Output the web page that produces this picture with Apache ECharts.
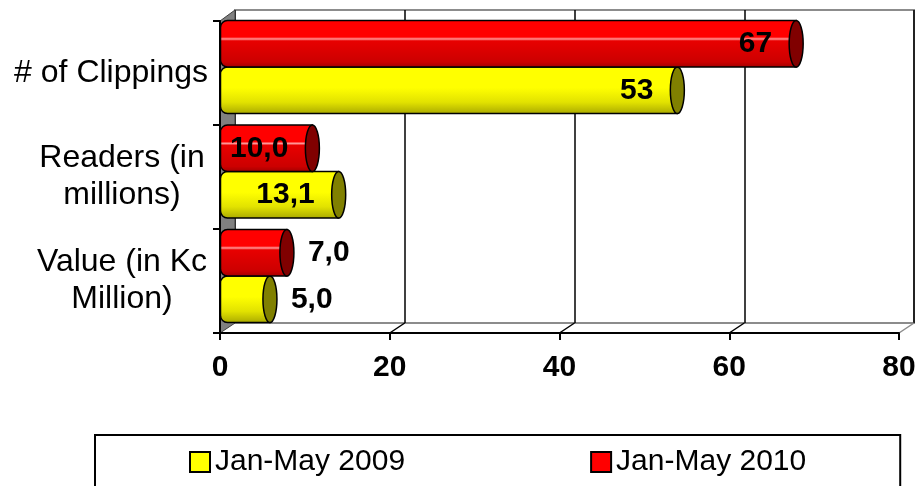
<!DOCTYPE html>
<html>
<head>
<meta charset="utf-8">
<script src="https://cdn.jsdelivr.net/npm/echarts@6/dist/echarts.min.js"></script>
<style>
  html, body { margin: 0; padding: 0; background: #fff; }
  #chart { width: 923px; height: 486px; }
</style>
</head>
<body>
<div id="chart"></div>
<script>
// data
var categories = ['# of Clippings', 'Readers (in\nmillions)', 'Value (in Kc\nMillion)'];
var decimals = [0, 1, 1];
var values2009 = [53, 13.1, 5.0];
var values2010 = [67, 10.0, 7.0];
var seriesNames = ['Jan-May 2009', 'Jan-May 2010'];
var xTicks = [0, 20, 40, 60, 80];

var FONT = '"Liberation Sans", Arial, sans-serif';

// layout of the 3D box: front plane, middle (bars), back wall
var H = 486;
var front = { left: 220, right: 24, top: 21, bottom: 153 };
var middle = { left: 227.5, right: 16.5, top: 14.75, bottom: 157.75 };
var back = { left: 235, right: 9, top: 10, bottom: 163 };

var chart = echarts.init(document.getElementById('chart'));

function fmt(v, i) {
  return v.toFixed(decimals[i]).replace('.', ',');
}

function gradient(stops) {
  return new echarts.graphic.LinearGradient(0, 0, 0, 1, stops);
}

var redBody = gradient([
  { offset: 0, color: '#ff0000' },
  { offset: 0.36, color: '#ff0000' },
  { offset: 0.4, color: '#ff9a9a' },
  { offset: 0.44, color: '#e80000' },
  { offset: 0.88, color: '#cc0000' },
  { offset: 1, color: '#a00000' }
]);
var yellowBody = gradient([
  { offset: 0, color: '#ffff00' },
  { offset: 0.45, color: '#ffff00' },
  { offset: 0.75, color: '#e2e200' },
  { offset: 1, color: '#a8a800' }
]);

// slot 0 = upper bar in the band, slot 1 = lower bar
function cylinder(body, cap, slot) {
  return function (params, api) {
    var v = api.value(0);
    var i = api.value(1);
    var s = api.coord([0, i]);
    var e = api.coord([v, i]);
    var band = api.size([0, 1])[1];
    var h = band * 0.445;
    var y0 = s[1] - h + slot * h;
    var rx = 7;
    var inside = e[0] - s[0] > 75;
    return {
      type: 'group',
      children: [
        {
          type: 'rect',
          shape: { x: s[0] - rx, y: y0, width: e[0] - s[0] + rx, height: h, r: [rx, 0, 0, rx] },
          style: { fill: body, stroke: '#000', lineWidth: 1.5 }
        },
        {
          type: 'ellipse',
          shape: { cx: e[0], cy: y0 + h / 2, rx: rx, ry: h / 2 },
          style: { fill: cap, stroke: '#000', lineWidth: 1.5 }
        },
        {
          type: 'text',
          x: inside ? e[0] - 24 : e[0] + 21,
          y: y0 + h / 2,
          style: {
            text: fmt(v, i),
            align: inside ? 'right' : 'left',
            verticalAlign: 'middle',
            fontSize: 30,
            fontWeight: 'bold',
            fontFamily: FONT,
            fill: '#000'
          }
        }
      ]
    };
  };
}

function pairs(vals) {
  return vals.map(function (v, i) { return [v, i]; });
}

var option = {
  animation: false,
  backgroundColor: '#fff',
  grid: [
    { left: front.left, right: front.right, top: front.top, bottom: front.bottom },
    { left: back.left, right: back.right, top: back.top, bottom: back.bottom,
      show: true, borderColor: '#8c8c8c', borderWidth: 2, backgroundColor: 'transparent' },
    { left: middle.left, right: middle.right, top: middle.top, bottom: middle.bottom }
  ],
  xAxis: [
    {
      gridIndex: 0, type: 'value', min: 0, max: 80, interval: 20, z: 3,
      axisLine: { show: true, lineStyle: { color: '#000', width: 2 } },
      axisTick: { show: true, length: 7, lineStyle: { color: '#000', width: 2 } },
      axisLabel: { fontSize: 30, fontWeight: 'bold', color: '#000', fontFamily: FONT, margin: 20 },
      splitLine: { show: false }
    },
    {
      gridIndex: 1, type: 'value', min: 0, max: 80, interval: 20,
      axisLine: { show: false }, axisTick: { show: false }, axisLabel: { show: false },
      splitLine: { show: true, lineStyle: { color: '#000', width: 1.5 } }
    },
    { gridIndex: 2, type: 'value', min: 0, max: 80, show: false }
  ],
  yAxis: [
    {
      gridIndex: 0, type: 'category', inverse: true, data: categories, z: 3,
      axisLine: { show: true, lineStyle: { color: '#000', width: 2 } },
      axisTick: { show: true, length: 7, lineStyle: { color: '#000', width: 2 } },
      axisLabel: {
        margin: 12, color: '#000', fontSize: 32, fontFamily: FONT, lineHeight: 37,
        formatter: function (val) {
          var lines = val.split('\n');
          if (lines.length === 1) return val;
          return lines.map(function (l) { return '{c|' + l + '}'; }).join('\n');
        },
        rich: {
          c: { width: 172, align: 'center', fontSize: 32, fontFamily: FONT, color: '#000', lineHeight: 37 }
        }
      }
    },
    { gridIndex: 1, type: 'value', min: 0, max: 1, show: false, splitLine: { show: false } },
    { gridIndex: 2, type: 'category', inverse: true, data: categories, show: false }
  ],
  legend: {
    data: seriesNames,
    left: 95, top: 435,
    padding: [12, 94, 40, 94],
    itemGap: 185,
    itemWidth: 20, itemHeight: 20,
    icon: 'rect',
    itemStyle: { borderColor: '#000', borderWidth: 2 },
    textStyle: { fontSize: 30, color: '#000', fontFamily: FONT },
    borderColor: '#000', borderWidth: 2,
    backgroundColor: '#fff'
  },
  series: [
    {
      name: seriesNames[0], type: 'custom', xAxisIndex: 2, yAxisIndex: 2, z: 4,
      itemStyle: { color: '#ffff00' },
      encode: { x: 0, y: 1 },
      data: pairs(values2009),
      renderItem: cylinder(yellowBody, '#808000', 1)
    },
    {
      name: seriesNames[1], type: 'custom', xAxisIndex: 2, yAxisIndex: 2, z: 4,
      itemStyle: { color: '#ff0000' },
      encode: { x: 0, y: 1 },
      data: pairs(values2010),
      renderItem: cylinder(redBody, '#800000', 0)
    }
  ]
};

chart.setOption(option);

// side wall and floor edges of the 3D box, placed through the axes
var frontBottom = H - front.bottom, frontTop = front.top;
var backBottom = H - back.bottom, backTop = back.top;
function fx(v) { return chart.convertToPixel({ xAxisIndex: 0 }, v); }
function bx(v) { return chart.convertToPixel({ xAxisIndex: 1 }, v); }

var deco = [
  {
    type: 'polygon', z: 1,
    shape: { points: [[fx(0), frontTop], [bx(0), backTop], [bx(0), backBottom], [fx(0), frontBottom]] },
    style: { fill: '#808080', stroke: '#404040', lineWidth: 1 }
  }
];
xTicks.slice(1).forEach(function (v, k) {
  deco.push({
    type: 'line', z: 1,
    shape: { x1: fx(v), y1: frontBottom, x2: bx(v), y2: backBottom },
    style: { stroke: k === xTicks.length - 2 ? '#8c8c8c' : '#000', lineWidth: 1.5 }
  });
});
chart.setOption({ graphic: deco });
</script>
</body>
</html>
